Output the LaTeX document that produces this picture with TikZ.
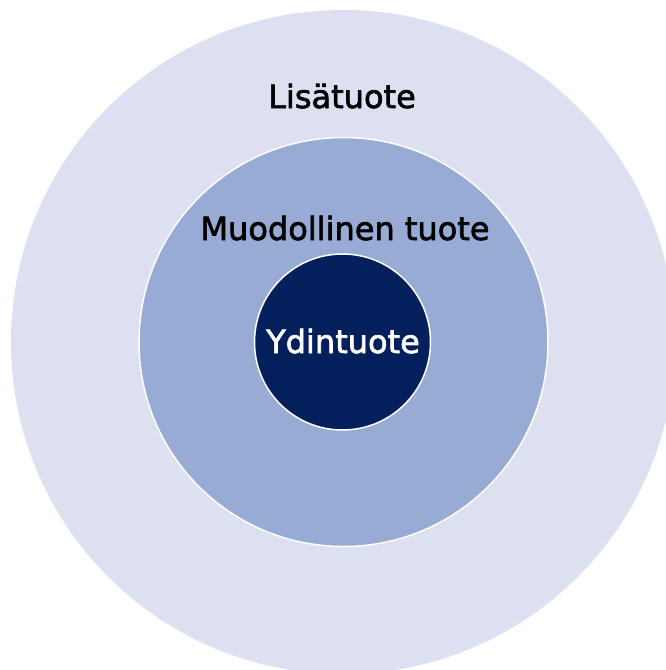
\documentclass[tikz,border=0pt]{standalone}
\usepackage{fontspec}
\setmainfont{DejaVu Sans}
\newfontfamily\lblfont{DejaVu Sans}[FakeBold=2]
\definecolor{outerc}{HTML}{DCE0F1}
\definecolor{midc}{HTML}{97ABD5}
\definecolor{innerc}{HTML}{031F5C}
\begin{document}
\begin{tikzpicture}[x=1pt,y=-1pt,
  ring/.style={circle,inner sep=0pt,outer sep=0pt},
  lbl/.style={anchor=base,inner sep=0pt,font=\lblfont\fontsize{32}{38}\selectfont}]
\useasboundingbox (0,0) rectangle (666,670);
\clip (0,0) rectangle (666,670);
\fill[white] (0,0) rectangle (666,670);
\node[ring,fill=outerc,minimum size=664pt] (outer) at (343,342) {};
\node[ring,fill=midc,draw=white,line width=1.5pt,minimum size=409pt] (mid) at (343.5,342) {};
\node[ring,fill=innerc,draw=white,line width=1.5pt,minimum size=176pt] (inner) at (342.5,342) {};
\node[lbl,text=black] (l1) at (342,108) {Lisätuote};
\node[lbl,text=black] (l2) at (345,240) {Muodollinen tuote};
\node[lbl,text=white] (l3) at (343,353) {Ydintuote};
\end{tikzpicture}
\end{document}
